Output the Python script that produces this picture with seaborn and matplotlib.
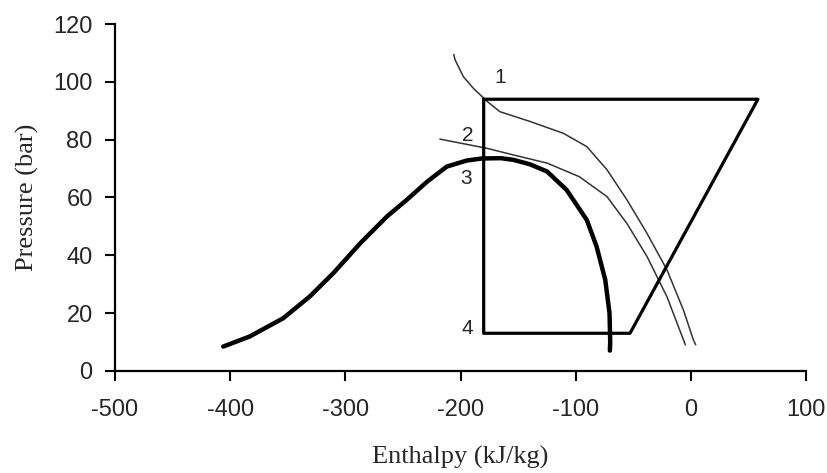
import pandas as pd
import seaborn as sns
import matplotlib.pyplot as plt

# saturation dome
dome_h = [-406, -383, -354, -331, -310.5, -287, -264, -246.7, -229, -212, -194.6, -181.6,
          -165, -154, -140, -125, -108, -90.5, -82, -74.5, -70.8, -70.2, -70.5]
dome_p = [8.4, 11.9, 18.2, 25.7, 33.8, 44.2, 53.4, 59.2, 65.5, 70.7, 72.8, 73.5,
          73.6, 73, 71.5, 69, 62.6, 52.2, 43, 31.5, 20, 10, 7]

# isotherms
iso1_h = [-206, -204.8, -197.6, -189, -181.6, -178.7, -166, -139.7, -110.8, -90.5,
          -73, -55.7, -38.3, -21, -6.6, 2, 4]
iso1_p = [109.5, 107.6, 101.8, 97.8, 95, 93.8, 89.7, 86.3, 82.2, 77.6,
          69.6, 59.2, 47.6, 35, 21, 10.7, 9]
iso2_h = [-218, -200, -177, -154, -125, -97, -73, -55.7, -38.3, -21, -6.6, -5]
iso2_p = [80.2, 78.8, 77, 74.7, 71.9, 67.2, 60.3, 51, 39.6, 25.7, 10.7, 9]

# cycle 1-2-3-4
cyc_h = [-180, 58, -53, -180, -180]
cyc_p = [94, 94, 13, 13, 94]

pt_labels = ['1', '2', '3', '4']
pt_h = [-166, -194, -195, -194]
pt_p = [101.5, 81.5, 66.5, 14.5]

sns.set_style('ticks')
plt.rcParams['font.family'] = ['Liberation Sans', 'DejaVu Sans']
plt.rcParams['axes.unicode_minus'] = False

fig = plt.figure(figsize=(8.27, 4.73), dpi=100)
ax = fig.add_axes([0.139, 0.216, 0.836, 0.733])

sns.lineplot(x=dome_h, y=dome_p, sort=False, estimator=None, color='black', linewidth=3.2, ax=ax)
sns.lineplot(x=iso1_h, y=iso1_p, sort=False, estimator=None, color='#333333', linewidth=1.1, ax=ax)
sns.lineplot(x=iso2_h, y=iso2_p, sort=False, estimator=None, color='#333333', linewidth=1.1, ax=ax)
sns.lineplot(x=cyc_h, y=cyc_p, sort=False, estimator=None, color='black', linewidth=2.3, ax=ax)

for lab, h, p in zip(pt_labels, pt_h, pt_p):
    ax.text(h, p, lab, fontsize=15, ha='center', va='center')

ax.set_xlim(-500, 100)
ax.set_ylim(0, 120)
ax.set_xticks([-500, -400, -300, -200, -100, 0, 100])
ax.set_yticks([0, 20, 40, 60, 80, 100, 120])
ax.tick_params(labelsize=17, length=7, width=1.5, color='black')
ax.tick_params(axis='x', pad=13)
ax.tick_params(axis='y', pad=9)
for s in ['left', 'bottom']:
    ax.spines[s].set_linewidth(1.6)
    ax.spines[s].set_color('black')
sns.despine(ax=ax)

ax.set_xlabel('Enthalpy (kJ/kg)', fontsize=19, family='Liberation Serif', labelpad=18)
ax.set_ylabel('Pressure (bar)', fontsize=19, family='Liberation Serif', labelpad=10)

fig.savefig('out.png', dpi=100)
